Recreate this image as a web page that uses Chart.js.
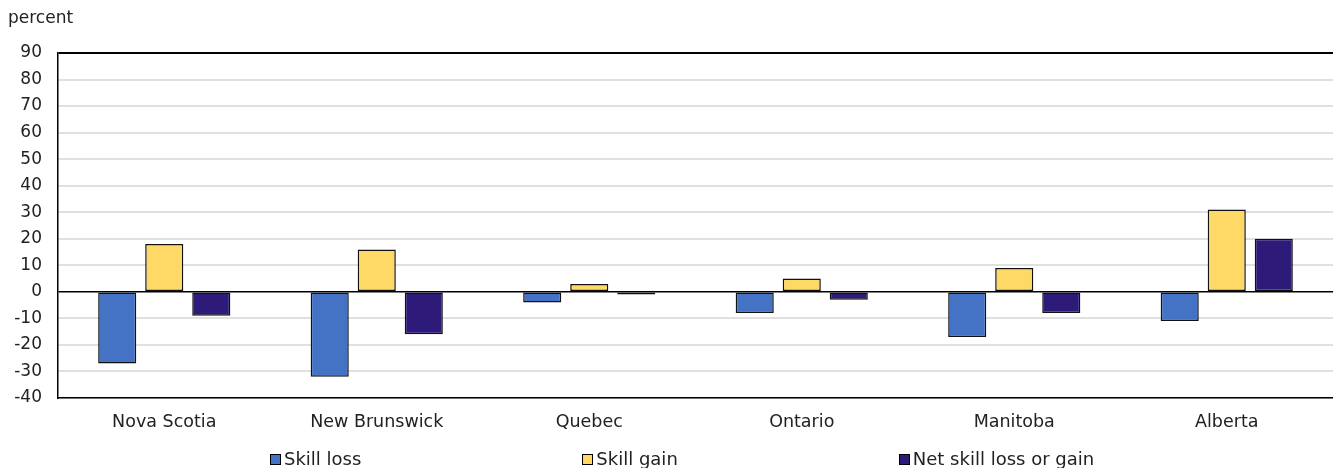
<!DOCTYPE html>
<html>
<head>
<meta charset="utf-8">
<script src="https://cdn.jsdelivr.net/npm/chart.js@4"></script>
<style>
  html, body { margin: 0; padding: 0; background: #fff; }
  #wrap { position: relative; width: 1333px; height: 468px; font-family: 'DejaVu Sans', Verdana, sans-serif; color: #222; }
  #unit { position: absolute; left: 8px; top: 7px; font-size: 17px; }
  #legend { position: absolute; left: 270px; top: 449px; display: flex; gap: 221px; font-size: 18px; line-height: 20px; }
  #legend span.item { display: flex; align-items: center; white-space: nowrap; }
  #legend span.box { display: inline-block; width: 9px; height: 9px; border: 1px solid #000; margin-right: 3px; }
</style>
</head>
<body>
<div id="wrap">
  <canvas id="c" width="1333" height="468"></canvas>
  <div id="unit">percent</div>
  <div id="legend"></div>
</div>
<script>
// provinces + series values (percent)
const categories = ['Nova Scotia', 'New Brunswick', 'Quebec', 'Ontario', 'Manitoba', 'Alberta'];
const skillLoss = [-27, -32, -4, -8, -17, -11];
const skillGain = [18, 16, 3, 5, 9, 31];
const netSkill = [-9, -16, -1, -3, -8, 20];
const seriesNames = ['Skill loss', 'Skill gain', 'Net skill loss or gain'];
const seriesColors = ['#4472C4', '#FFD966', '#2E1A78'];

const yMin = -40, yMax = 90, yStep = 10;
const FONT = { family: "'DejaVu Sans', Verdana, sans-serif", size: 17 };

// html legend, spaced like the original
const legendEl = document.getElementById('legend');
seriesNames.forEach((name, i) => {
  const item = document.createElement('span');
  item.className = 'item';
  const box = document.createElement('span');
  box.className = 'box';
  box.style.background = seriesColors[i];
  item.appendChild(box);
  item.appendChild(document.createTextNode(name));
  legendEl.appendChild(item);
});

const values = [skillLoss, skillGain, netSkill];

new Chart(document.getElementById('c'), {
  type: 'bar',
  data: {
    labels: categories,
    datasets: values.map((v, i) => ({
      label: seriesNames[i],
      data: v,
      backgroundColor: seriesColors[i],
      borderColor: '#111',
      borderWidth: 1.5,
      borderSkipped: false,
      categoryPercentage: 0.664,
      barPercentage: 0.81
    }))
  },
  options: {
    responsive: false,
    animation: false,
    layout: { padding: { top: 53, right: 0, bottom: 0, left: 0 } },
    plugins: {
      legend: { display: false },
      tooltip: { enabled: false }
    },
    scales: {
      x: {
        grid: { display: false },
        border: { display: true, color: '#000', width: 1.5 },
        ticks: { color: '#222', font: { ...FONT, size: 17.5 }, padding: 6, maxRotation: 0 },
        afterFit: s => { s.height = 70; }
      },
      y: {
        min: yMin,
        max: yMax,
        grid: {
          drawTicks: false,
          color: ctx => (ctx.tick && (ctx.tick.value === 0 || ctx.tick.value === yMax)) ? '#000' : '#e0e0e0',
          lineWidth: ctx => (ctx.tick && ctx.tick.value === yMax) ? 2 : (ctx.tick && ctx.tick.value === 0 ? 1.5 : 2)
        },
        border: { display: true, color: '#000', width: 1.5 },
        ticks: { stepSize: yStep, color: '#222', font: FONT, padding: 16 },
        afterFit: s => { s.width = 58; }
      }
    }
  }
});
</script>
</body>
</html>
